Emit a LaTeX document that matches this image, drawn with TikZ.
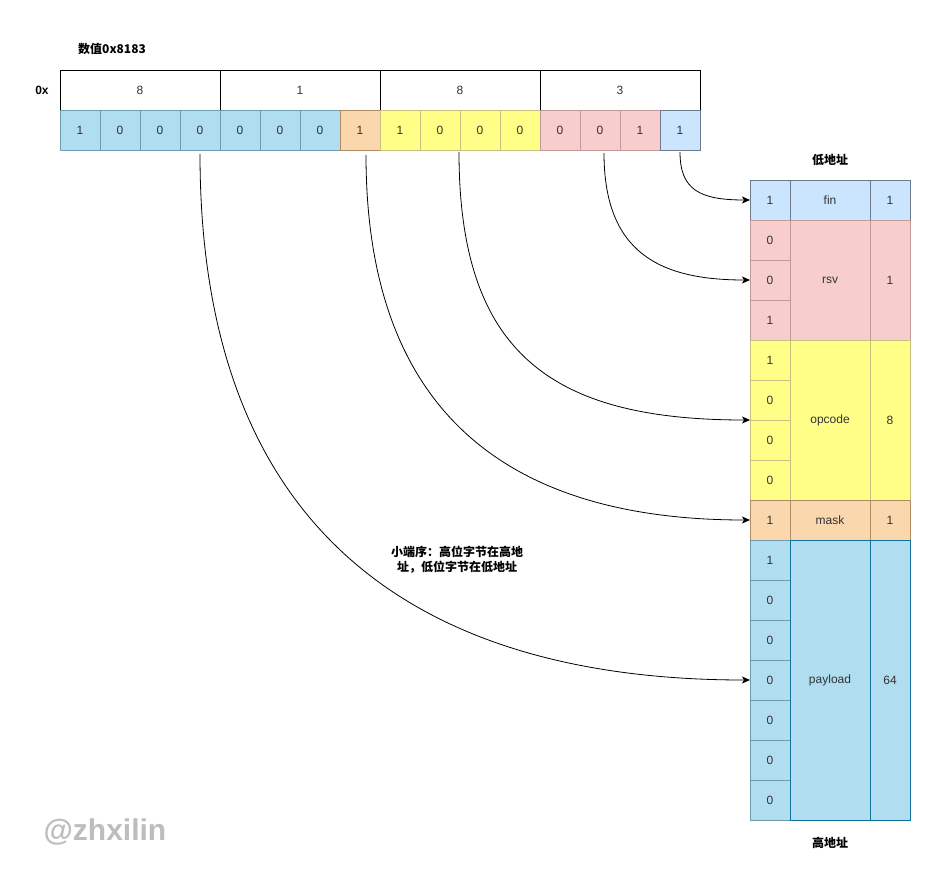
\documentclass[tikz,border=0pt]{standalone}
\usepackage{fontspec}
\setmainfont{Liberation Sans}
\newfontfamily\cjk{Noto Sans CJK SC}
\usetikzlibrary{arrows.meta}
\definecolor{bF}{HTML}{B1DDF0}\definecolor{bD}{HTML}{6F9BAE}\definecolor{bDD}{HTML}{10739E}
\definecolor{pF}{HTML}{F8CECC}\definecolor{pD}{HTML}{C09A9A}
\definecolor{yF}{HTML}{FFFF88}\definecolor{yD}{HTML}{C8C080}
\definecolor{oF}{HTML}{FAD7AC}\definecolor{oD}{HTML}{B08A60}
\definecolor{fF}{HTML}{CCE5FF}\definecolor{fD}{HTML}{6C7A89}
\definecolor{txt}{HTML}{333333}
\begin{document}
\begin{tikzpicture}[x=1pt,y=-1pt,font=\fontsize{12}{14}\selectfont,
  cell/.style={draw,minimum width=40pt,minimum height=40pt,inner sep=0pt,outer sep=0pt,line width=0.8pt,text=txt},
  hexbox/.style={draw=black,line width=0.8pt,minimum width=160pt,minimum height=40pt,inner sep=0pt,outer sep=0pt,text=txt},
  bb/.style={fill=bF,draw=bD},
  pp/.style={fill=pF,draw=pD},
  yy/.style={fill=yF,draw=yD},
  oo/.style={fill=oF,draw=oD},
  ff/.style={fill=fF,draw=fD},
  lbl/.style={inner sep=0pt,font=\fontsize{12}{14}\selectfont\cjk\bfseries},
  conn/.style={line width=0.8pt,-{Stealth[length=8pt,width=7pt,inset=2pt]}}]
\useasboundingbox (0,0) rectangle (941,886);

% header
\node[lbl,anchor=west] (title) at (78,49) {数值0x8183};
\node[lbl] (ox) at (42,90) {\setmainfont{Liberation Sans}\bfseries 0x};
\node[hexbox] (h1) at (140,90) {8};
\node[hexbox] (h2) at (300,90) {1};
\node[hexbox] (h3) at (460,90) {8};
\node[hexbox] (h4) at (620,90) {3};

% bit row
\foreach \i/\v/\s in {1/1/bb,2/0/bb,3/0/bb,4/0/bb,5/0/bb,6/0/bb,7/0/bb,8/1/oo,
                      9/1/yy,10/0/yy,11/0/yy,12/0/yy,13/0/pp,14/0/pp,15/1/pp,16/1/ff}
  \node[cell,\s] (b\i) at ({40+40*\i},130) {\v};

% right column: bit cells
\foreach \i/\v/\s in {1/1/ff,2/0/pp,3/0/pp,4/1/pp,5/1/yy,6/0/yy,7/0/yy,8/0/yy,9/1/oo,
                      10/1/bb,11/0/bb,12/0/bb,13/0/bb,14/0/bb,15/0/bb,16/0/bb}
  \node[cell,\s] (r\i) at (770,{160+40*\i}) {\v};

% name and value cells
\node[cell,ff,minimum width=80pt] (nfin) at (830,200) {fin};
\node[cell,ff] (vfin) at (890,200) {1};
\node[cell,pp,minimum width=80pt,minimum height=120pt] (nrsv) at (830,280) {rsv};
\node[cell,pp,minimum height=120pt] (vrsv) at (890,280) {1};
\node[cell,yy,minimum width=80pt,minimum height=160pt] (nop) at (830,420) {opcode};
\node[cell,yy,minimum height=160pt] (vop) at (890,420) {8};
\node[cell,oo,minimum width=80pt] (nmask) at (830,520) {mask};
\node[cell,oo] (vmask) at (890,520) {1};
\node[cell,fill=bF,draw=bDD,minimum width=80pt,minimum height=280pt] (npay) at (830,680) {payload};
\node[cell,fill=bF,draw=bDD,minimum height=280pt] (vpay) at (890,680) {64};

% labels
\node[lbl] (low) at (830,160) {低地址};
\node[lbl] (high) at (830,843) {高地址};
\node[lbl,align=center,font=\fontsize{12}{15}\selectfont\cjk\bfseries] (note) at (457,560) {小端序：高位字节在高地\\址，低位字节在低地址};
\node[inner sep=0pt,text=black!26,font=\fontsize{30}{34}\selectfont\bfseries] (wm) at (105,832) {@zhxilin};

% connectors
\draw[conn] ([yshift=-2pt]b16.south) .. controls +(0,38) and +(-50,0) .. (r1.west);
\draw[conn] ([xshift=4pt,yshift=-3pt]b14.south) .. controls +(0,100) and +(-90,0) .. (r3.west);
\draw[conn] ([xshift=-1pt,yshift=-2pt]b10.south east) .. controls +(0,200) and +(-200,0) .. (r6.south west);
\draw[conn] ([xshift=6pt,yshift=-5pt]b8.south) .. controls +(0,250) and +(-250,0) .. (r9.west);
\draw[conn] ([yshift=-4pt]b4.south) .. controls +(0,380) and +(-330,0) .. (r13.west);
\end{tikzpicture}
\end{document}
